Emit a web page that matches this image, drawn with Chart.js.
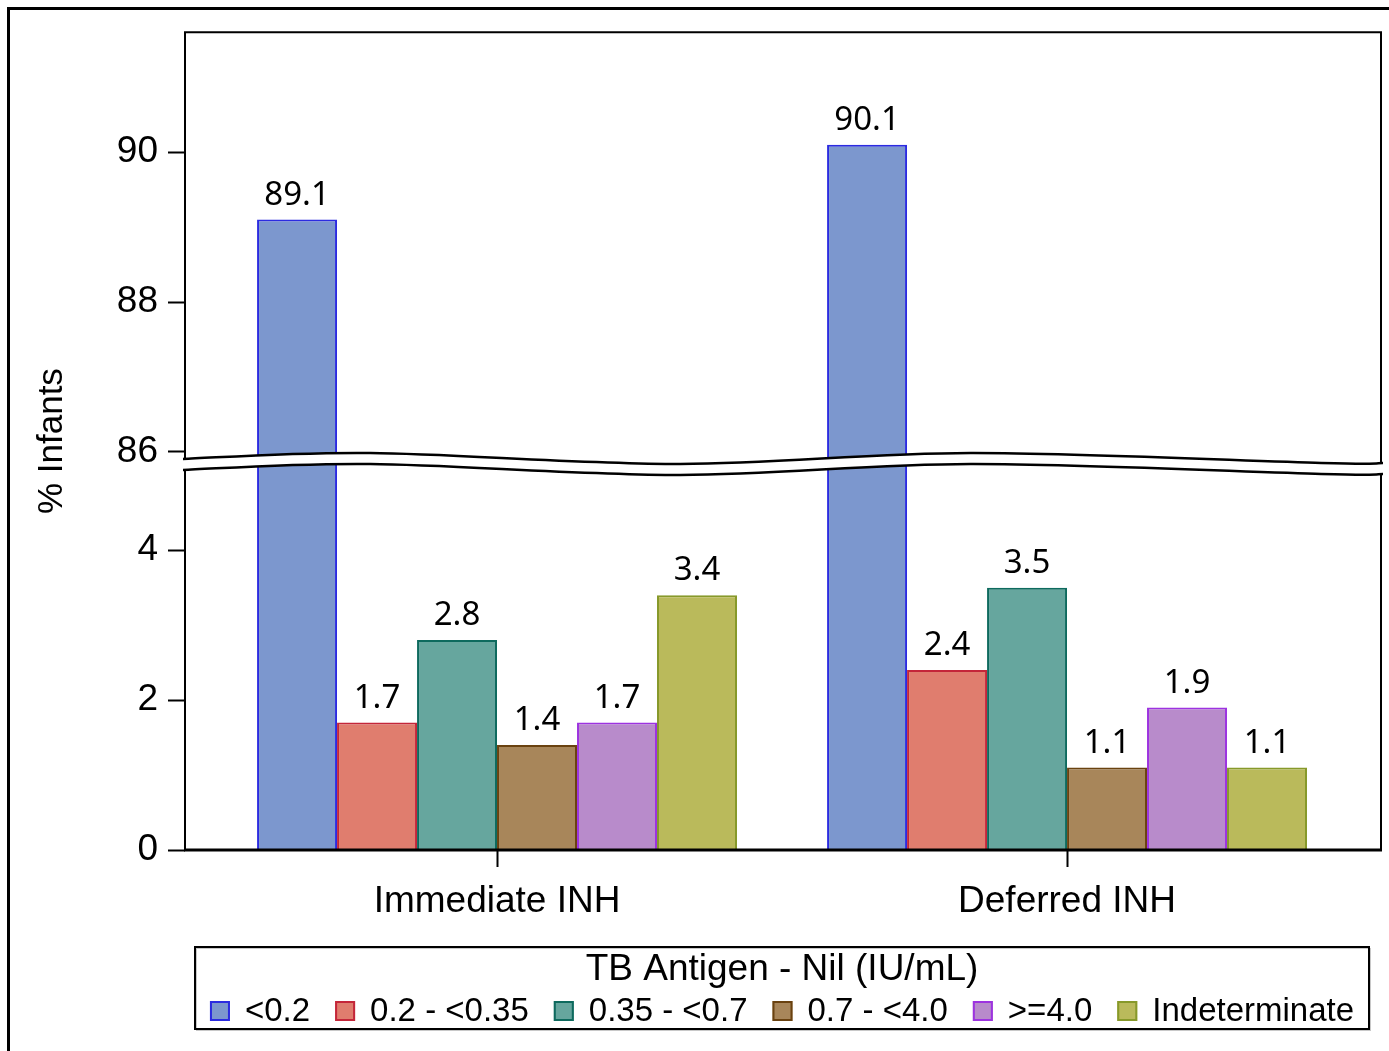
<!DOCTYPE html>
<html>
<head>
<meta charset="utf-8">
<script src="https://cdn.jsdelivr.net/npm/chart.js@4/dist/chart.umd.min.js"></script>
<style>
  html, body { margin: 0; padding: 0; background: #fff; }
  #wrap { width: 1389px; height: 1051px; position: relative; }
</style>
</head>
<body>
<div id="wrap"><canvas id="c" width="1389" height="1051"></canvas></div>
<script>
// ---- data ----
const categories = ['Immediate INH', 'Deferred INH'];
const seriesLabels = ['<0.2', '0.2 - <0.35', '0.35 - <0.7', '0.7 - <4.0', '>=4.0', 'Indeterminate'];
const valLt02 = [89.1, 90.1];
const val02to035 = [1.7, 2.4];
const val035to07 = [2.8, 3.5];
const val07to40 = [1.4, 1.1];
const valGe40 = [1.7, 1.9];
const valIndet = [3.4, 1.1];
const lowTicks = [0, 2, 4];
const highTicks = [86, 88, 90];
const legendTitle = 'TB Antigen - Nil (IU/mL)';
const yTitle = '% Infants';

// ---- styles ----
const fillColors = ['#7C97CE', '#E07D6E', '#66A69E', '#A8865A', '#B88BCB', '#BABA5B'];
const borderColors = ['#2B2BE0', '#C42639', '#0E6A5E', '#6A4210', '#9D33E0', '#87992A'];

// ---- broken axis mapping ----
const BREAK_LOW = 5.07;   // top of lower segment
const BREAK_HIGH = 85.9;  // bottom of upper segment
const GAP = 0.14;
const OFFSET = BREAK_HIGH - (BREAK_LOW + GAP);
const Y_TOP = 91.6;
function mapY(v) { return v > BREAK_LOW ? v - OFFSET : v; }

const allSeries = [valLt02, val02to035, val035to07, val07to40, valGe40, valIndet];
const tickMap = {};
lowTicks.forEach(t => { tickMap[mapY(t).toFixed(4)] = String(t); });
highTicks.forEach(t => { tickMap[mapY(t).toFixed(4)] = String(t); });

const datasets = allSeries.map((arr, i) => ({
  label: seriesLabels[i],
  data: arr.map((v, j) => ({ x: j, y: mapY(v) })),
  rawValues: arr,
  backgroundColor: fillColors[i],
  borderColor: borderColors[i],
  borderWidth: 2,
  borderSkipped: 'bottom',
  categoryPercentage: 0.842,
  barPercentage: 1.0
}));

// smooth curve helper (Catmull-Rom)
function curvePath(ctx, pts, move) {
  if (move) ctx.moveTo(pts[0][0], pts[0][1]); else ctx.lineTo(pts[0][0], pts[0][1]);
  for (let i = 0; i < pts.length - 1; i++) {
    const p0 = pts[i - 1] || pts[i], p1 = pts[i], p2 = pts[i + 1], p3 = pts[i + 2] || p2;
    const c1x = p1[0] + (p2[0] - p0[0]) / 6, c1y = p1[1] + (p2[1] - p0[1]) / 6;
    const c2x = p2[0] - (p3[0] - p1[0]) / 6, c2y = p2[1] - (p3[1] - p1[1]) / 6;
    ctx.bezierCurveTo(c1x, c1y, c2x, c2y, p2[0], p2[1]);
  }
}

const frameAndBreak = {
  id: 'frameAndBreak',
  beforeDraw(chart) {
    const ctx = chart.ctx;
    ctx.save();
    ctx.fillStyle = '#fff';
    ctx.fillRect(0, 0, chart.width, chart.height);
    // outer frame (cropped)
    ctx.strokeStyle = '#000';
    ctx.lineWidth = 3;
    ctx.beginPath();
    ctx.moveTo(8.5, chart.height + 5);
    ctx.lineTo(8.5, 8.5);
    ctx.lineTo(chart.width + 5, 8.5);
    ctx.stroke();
    ctx.restore();
  },
  afterDatasetsDraw(chart) {
    const ctx = chart.ctx;
    const a = chart.chartArea;
    const ys = chart.scales.y;
    ctx.save();
    // plot frame
    ctx.strokeStyle = '#000';
    ctx.lineWidth = 2;
    ctx.beginPath();
    ctx.moveTo(a.left, a.bottom);
    ctx.lineTo(a.left, a.top);
    ctx.lineTo(a.right, a.top);
    ctx.lineTo(a.right, a.bottom);
    ctx.stroke();
    ctx.lineWidth = 3;
    ctx.beginPath();
    ctx.moveTo(a.left - 1, a.bottom);
    ctx.lineTo(a.right + 1, a.bottom);
    ctx.stroke();

    // axis break
    const yLow = ys.getPixelForValue(BREAK_LOW);
    const w = a.right - a.left;
    const fr = [0, 0.155, 0.414, 0.657, 0.95, 1.0];
    const lowOff = [0, -6, 5, -6, 4, 4];
    const sep = 11;
    const lower = fr.map((f, i) => [a.left + f * w + (i === 0 ? -2 : (i === fr.length - 1 ? 2 : 0)), yLow + lowOff[i]]);
    const upper = lower.map(p => [p[0], p[1] - sep]);
    ctx.fillStyle = '#fff';
    ctx.beginPath();
    curvePath(ctx, upper, true);
    curvePath(ctx, lower.slice().reverse(), false);
    ctx.closePath();
    ctx.fill();
    ctx.strokeStyle = '#000';
    ctx.lineWidth = 2.5;
    ctx.beginPath(); curvePath(ctx, upper, true); ctx.stroke();
    ctx.beginPath(); curvePath(ctx, lower, true); ctx.stroke();

    // data labels
    ctx.fillStyle = '#000';
    ctx.font = '33px "Noto Sans"';
    ctx.textAlign = 'center';
    ctx.textBaseline = 'alphabetic';
    chart.data.datasets.forEach((ds, di) => {
      const meta = chart.getDatasetMeta(di);
      meta.data.forEach((bar, j) => {
        ctx.fillText(ds.rawValues[j].toFixed(1), bar.x, bar.y - 15);
      });
    });
    ctx.restore();
  },
  afterDraw(chart) {
    // legend box
    const ctx = chart.ctx;
    ctx.save();
    const bx = 195, by = 947, bw = 1174, bh = 82;
    ctx.strokeStyle = '#c8c8c8';
    ctx.lineWidth = 1;
    ctx.strokeRect(bx + 1.5, by + 1.5, bw, bh);
    ctx.strokeStyle = '#000';
    ctx.lineWidth = 2;
    ctx.strokeRect(bx, by, bw, bh);
    const cx = bx + bw / 2;
    ctx.fillStyle = '#000';
    ctx.font = '37px "Liberation Sans"';
    ctx.textAlign = 'center';
    ctx.textBaseline = 'middle';
    ctx.fillText(legendTitle, cx, 970);
    ctx.font = '33px "Liberation Sans"';
    const sw = 20, gapText = 15, gapItem = 25;
    const widths = chart.data.datasets.map(ds => sw + gapText + ctx.measureText(ds.label).width);
    const total = widths.reduce((s, v) => s + v, 0) + gapItem * (widths.length - 1);
    let x = cx - total / 2;
    const rowY = 1011;
    ctx.textAlign = 'left';
    chart.data.datasets.forEach((ds, i) => {
      ctx.fillStyle = ds.backgroundColor;
      ctx.fillRect(x, rowY - sw / 2, sw, sw);
      ctx.strokeStyle = ds.borderColor;
      ctx.lineWidth = 2;
      ctx.strokeRect(x + 1, rowY - sw / 2 + 1, sw - 2, sw - 2);
      ctx.fillStyle = '#000';
      ctx.fillText(ds.label, x + sw + gapText, rowY + 1);
      x += widths[i] + gapItem;
    });
    ctx.restore();
  }
};

Chart.defaults.font.family = '"Liberation Sans", Arial, sans-serif';
Chart.defaults.color = '#000';

new Chart(document.getElementById('c'), {
  type: 'bar',
  data: { datasets },
  options: {
    responsive: false,
    animation: false,
    events: [],
    layout: { padding: { left: 0, right: 8, top: 32, bottom: 104 } },
    plugins: {
      legend: { display: false },
      tooltip: { enabled: false },
      title: { display: false }
    },
    scales: {
      x: {
        type: 'linear',
        min: -0.5474,
        max: 1.5508,
        offset: false,
        afterFit(s) { s.height = 97; },
        afterBuildTicks(s) { s.ticks = categories.map((c, i) => ({ value: i })); },
        ticks: {
          autoSkip: false,
          maxRotation: 0,
          padding: 13,
          font: { size: 37 },
          callback: (v) => categories[v] ?? ''
        },
        grid: { display: true, offset: false, drawOnChartArea: false, drawTicks: true, tickLength: 17, tickColor: '#000', tickWidth: 2 },
        border: { display: false }
      },
      y: {
        type: 'linear',
        min: 0,
        max: mapY(Y_TOP),
        afterFit(s) { s.width = 185; },
        afterBuildTicks(s) {
          s.ticks = lowTicks.concat(highTicks).map(t => ({ value: mapY(t) }));
        },
        ticks: {
          padding: 10,
          font: { size: 37 },
          callback: (v) => tickMap[Number(v).toFixed(4)] ?? ''
        },
        grid: { display: true, drawOnChartArea: false, drawTicks: true, tickLength: 17, tickColor: '#000', tickWidth: 2 },
        border: { display: false },
        title: {
          display: true,
          text: yTitle,
          font: { size: 35 },
          padding: { top: 31, bottom: 0 }
        }
      }
    }
  },
  plugins: [frameAndBreak]
});
</script>
</body>
</html>
